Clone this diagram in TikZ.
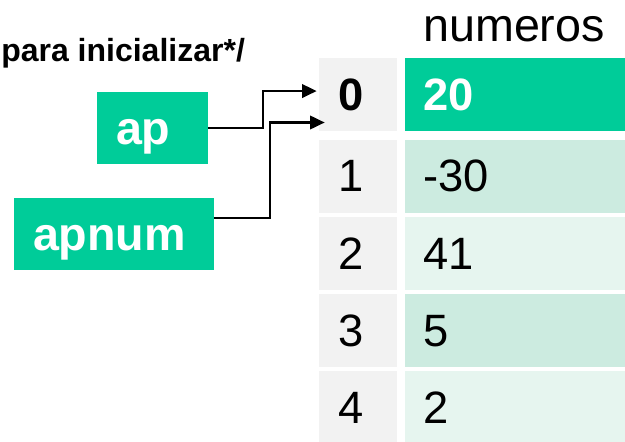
\documentclass[tikz,border=0pt]{standalone}
\usepackage{fontspec}
\setmainfont{Liberation Sans}
\usetikzlibrary{arrows.meta,positioning,calc}
\definecolor{vgreen}{HTML}{00CC99}
\definecolor{vmid}{HTML}{CCEBE0}
\definecolor{vpale}{HTML}{E6F5EF}
\definecolor{igrey}{HTML}{F2F2F2}

\begin{document}
\begin{tikzpicture}[x=0.75pt,y=-0.75pt,>={Triangle[length=11pt,width=10pt]},
 cell/.style={inner xsep=14.25pt,inner ysep=0pt,minimum height=55pt,align=left,font=\fontsize{34}{40}\selectfont},
 idx/.style={cell,fill=igrey,text width=30pt},
 val/.style={cell,text width=137.25pt},
 ptr/.style={fill=vgreen,text=white,inner xsep=14pt,inner ysep=0pt,text height=39.5pt,text depth=14.5pt,align=left,font=\bfseries\fontsize{35}{40}\selectfont},
 link/.style={->,line width=2pt}]
\useasboundingbox (0,0) rectangle (625,442);
\node[anchor=base west,inner sep=0pt,font=\bfseries\fontsize{24}{28}\selectfont] (note) at (1,62) {para inicializar*/};
\node[anchor=base west,inner sep=0pt,font=\fontsize{35}{40}\selectfont] (title) at (423,42) {numeros};
% indices and values
\node[idx,font=\bfseries\fontsize{34}{40}\selectfont] (i0) at (358,94.5) {0};
\node[val,right=5.25pt of i0,fill=vgreen,text=white,font=\bfseries\fontsize{34}{40}\selectfont] (v0) {20};
\node[idx,below=6pt of i0] (i1) {1};
\node[val,right=5.25pt of i1,fill=vmid] (v1) {-30};
\node[idx,below=2.5pt of i1] (i2) {2};
\node[val,right=5.25pt of i2,fill=vpale] (v2) {41};
\node[idx,below=2.5pt of i2] (i3) {3};
\node[val,right=5.25pt of i3,fill=vmid] (v3) {5};
\node[idx,below=2.5pt of i3] (i4) {4};
\node[val,right=5.25pt of i4,fill=vpale] (v4) {2};
% pointers
\node[ptr,text width=54.75pt] (ap) at (152.5,128) {ap};
\node[ptr,text width=121.5pt] (apnum) at (114,234) {apnum};
\draw[link] (ap.east) -- ++(55,0) |- ([xshift=-1.5pt,yshift=2.6pt]i0.west);
\draw[link] ([yshift=12pt]apnum.east) -- ++(56,0) |- ([xshift=4.5pt,yshift=-21pt]i0.west);
\end{tikzpicture}
\end{document}
